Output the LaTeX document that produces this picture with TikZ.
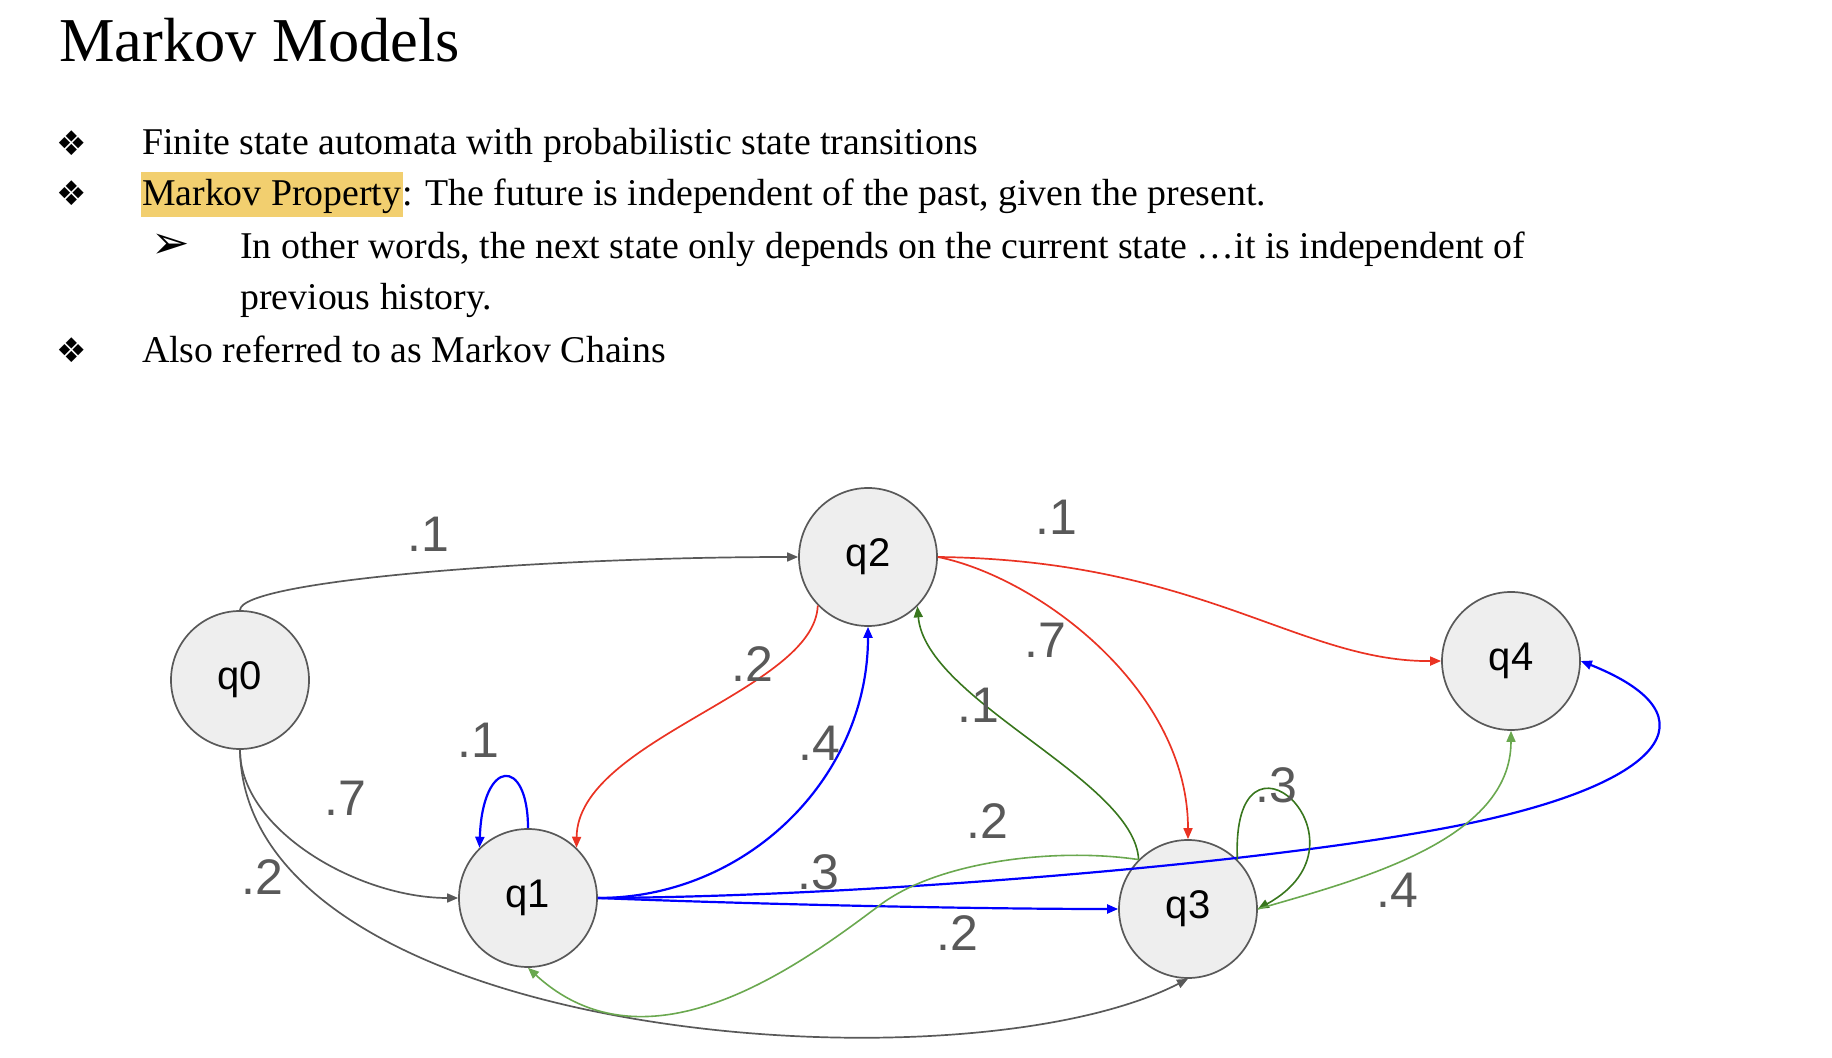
\documentclass[tikz,border=0pt]{standalone}
\usepackage{fontspec}
\setmainfont{Liberation Serif}
\newfontfamily\lblfont{Liberation Sans}
\newfontfamily\dingfont{DejaVu Sans}
\usetikzlibrary{arrows.meta}
\definecolor{Ink}{HTML}{595959}
\definecolor{StateFill}{HTML}{EEEEEE}
\definecolor{Red}{HTML}{EA3323}
\definecolor{Blue}{HTML}{0000FF}
\definecolor{DarkGreen}{HTML}{38761D}
\definecolor{LightGreen}{HTML}{6AA84F}
\definecolor{Marker}{HTML}{F2CF6F}
\tikzset{state/.style={circle,draw=Ink,fill=StateFill,line width=.85pt,minimum size=69pt,inner sep=0pt,font=\lblfont\fontsize{20}{24}\selectfont},prob/.style={text=Ink,anchor=base,inner sep=0pt,font=\lblfont\fontsize{25}{30}\selectfont},bodytext/.style={anchor=base west,inner sep=0pt,font=\fontsize{18.9}{22}\selectfont},bullet/.style={inner sep=0pt,font=\dingfont\fontsize{17}{18}\selectfont},flow/.style={-{Triangle[length=5.5pt,width=4.5pt]},line width=.85pt}}

\begin{document}
\begin{tikzpicture}[x=.5pt,y=-.5pt]
        \useasboundingbox (0,0) rectangle (1832,1058);
        % title and bullets
        \node[anchor=base west,inner sep=0pt,font=\fontsize{31.2}{36}\selectfont](title)at(59,62){Markov Models};
        \node[bullet](b1)at(72,143){❖};
        \node[bodytext](t1)at(141.7,155){Finite state automata with probabilistic state transitions};
        \node[bullet](b2)at(72,193){❖};
        \node[bodytext,fill=Marker,inner xsep=.75pt,text height=17pt,text depth=5.5pt](t2)at(140.2,206){Markov Property};
        \node[bodytext,xshift=-.75pt](t2b)at(t2.base east){: The future is independent of the past, given the present.};
        \node[bullet,font=\dingfont\fontsize{23}{24}\selectfont](b3)at(171,246){➢};
        \node[bodytext](t3)at(240,259){In other words, the next state only depends on the current state …it is independent of};
        \node[bodytext](t4)at(240,310){previous history.};
        \node[bullet](b4)at(72,350){❖};
        \node[bodytext](t5)at(141.7,363){Also referred to as Markov Chains};
        % states
        \node[state](q0)at(240,680){q0};
        \node[state](q1)at(528,898){q1};
        \node[state](q2)at(868,557){q2};
        \node[state](q3)at(1188,909){q3};
        \node[state](q4)at(1511,661){q4};
        \coordinate(bend)at(1461,825);
        \coordinate(swing)at(880,905);
        % transitions
        \draw[flow,Ink](q0.north)..controls +(0,-30) and +(-250,0)..(q2.west);
        \draw[flow,Ink](q0.south)..controls +(0,80) and +(-100,0)..(q1.west);
        \draw[flow,Ink](q0.south)..controls +(5,291) and +(-228,117)..(q3.south);
        \draw[flow,Blue,line width=1.1pt](q1.north)..controls +(0,-72) and +(3,-90)..(q1.134);
        \draw[flow,Blue,line width=1.1pt](q1.east)..controls +(150,0) and +(0,150)..(q2.south);
        \draw[flow,Blue,line width=1.1pt](q1.east)..controls +(150,6) and +(-150,0)..(q3.west);
        \draw[flow,Blue,line width=1.1pt](q1.east)..controls +(253,-1) and +(-200,40)..(bend)..controls +(200,-40) and +(140,56)..(q4.east);
        \draw[flow,Red](q2.224)..controls +(-3,85) and +(1,-108)..(q1.46);
        \draw[flow,Red](q2.east)..controls +(100,20) and +(0,-150)..(q3.north);
        \draw[flow,Red](q2.east)..controls +(263,3) and +(-142,1)..(q4.west);
        \draw[flow,DarkGreen,line width=.8pt](q3.135)..controls +(-4,-80) and +(8,94)..(q2.-45);
        \draw[flow,DarkGreen,line width=.8pt](q3.45)..controls +(-7,-155) and +(123,-68)..(q3.east);
        \draw[flow,LightGreen,line width=.8pt](q3.135)..controls +(-80,-12) and +(60,-45)..(swing)..controls +(-80,60) and +(120,110)..(q1.south);
        \draw[flow,LightGreen,line width=.8pt](q3.east)..controls +(100,-29) and +(0,110)..(q4.south);
        % probabilities
        \node[prob](p02)at(428,552){.1};
        \node[prob](p24)at(1056,535){.1};
        \node[prob](p21)at(752,682){.2};
        \node[prob](p23)at(1045,658){.7};
        \node[prob](p32)at(978,723){.1};
        \node[prob](p12)at(819,761){.4};
        \node[prob](p11)at(478,757){.1};
        \node[prob](p01)at(345,815){.7};
        \node[prob](p33)at(1276,802){.3};
        \node[prob](p31)at(987,838){.2};
        \node[prob](p14)at(818,889){.3};
        \node[prob](p03)at(262,894){.2};
        \node[prob](p34)at(1397,907){.4};
        \node[prob](p13)at(957,950){.2};
      \end{tikzpicture}
\end{document}
